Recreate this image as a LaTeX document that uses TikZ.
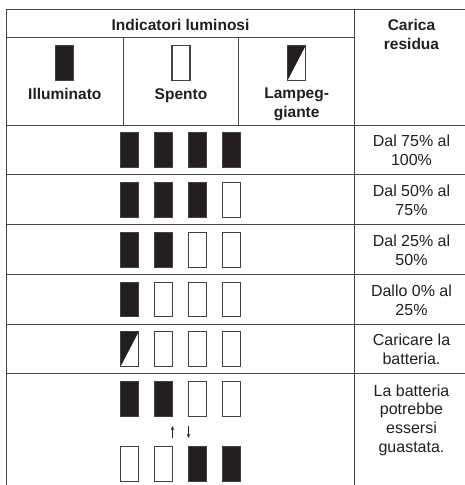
\documentclass[tikz,border=0pt]{standalone}
\usepackage{fontspec}
\setmainfont{Liberation Sans}
\usetikzlibrary{arrows.meta}
\definecolor{ink}{HTML}{231F20}
\definecolor{rulec}{HTML}{454545}
\begin{document}
\begin{tikzpicture}[x=1pt,y=-1pt,
  grid/.style={draw=rulec, line width=1pt},
  led/.style={draw=ink!85, line width=1.1pt, minimum width=18pt, minimum height=34.5pt, inner sep=0pt, outer sep=0pt},
  ledon/.style={led, fill=ink},
  ledoff/.style={led, fill=white},
  ledblink/.style={led, fill=white, path picture={\fill[ink] (path picture bounding box.north west) -- (path picture bounding box.north east) -- (path picture bounding box.south west) -- cycle;}},
  head/.style={font=\bfseries\fontsize{15.5}{18.5}\selectfont, text=ink, align=center, inner sep=0pt, anchor=base},
  body/.style={font=\fontsize{16}{18.8}\selectfont, text=ink, align=center, inner sep=0pt, anchor=base},
  flow/.style={draw=ink, line width=1pt, -{Stealth[length=4pt,width=3.5pt]}},
]
\useasboundingbox (0,0) rectangle (465,485);
\fill[white] (0,0) rectangle (465,485);

% grid
\draw[grid] (6.7,490) -- (6.7,9) -- (470,9);
\draw[grid] (6.7,37.3) -- (354,37.3);
\draw[grid] (354,9) -- (354,490);
\draw[grid] (123,37.3) -- (123,125);
\draw[grid] (238.7,37.3) -- (238.7,125);
\foreach \yy in {125,174.5,224.5,274.5,324,373.5}
  \draw[grid] (6.7,\yy) -- (470,\yy);

% header (base anchor = baseline of the last line)
\node[head] (title) at (180.5,30.3) {Indicatori luminosi};
\node[head] (carica) at (411.5,49) {Carica\\residua};
\node[ledon] (legon) at (64.8,62.8) {};
\node[ledoff] (legoff) at (181,62.8) {};
\node[ledblink] (legblink) at (296.7,62.8) {};
\node[head] (illum) at (64.8,99) {Illuminato};
\node[head] (spento) at (181,99) {Spento};
\node[head] (lamp) at (296.7,117) {Lampeg-\\giante};

% row 1
\node[ledon] (r1a) at (129.7,150) {};
\node[ledon] (r1b) at (163.7,150) {};
\node[ledon] (r1c) at (197.7,150) {};
\node[ledon] (r1d) at (231.7,150) {};
\node[body] (t1) at (411.5,165) {Dal 75\% al\\100\%};
% row 2
\node[ledon] (r2a) at (129.7,200) {};
\node[ledon] (r2b) at (163.7,200) {};
\node[ledon] (r2c) at (197.7,200) {};
\node[ledoff] (r2d) at (231.7,200) {};
\node[body] (t2) at (411.5,215) {Dal 50\% al\\75\%};
% row 3
\node[ledon] (r3a) at (129.7,250) {};
\node[ledon] (r3b) at (163.7,250) {};
\node[ledoff] (r3c) at (197.7,250) {};
\node[ledoff] (r3d) at (231.7,250) {};
\node[body] (t3) at (411.5,265) {Dal 25\% al\\50\%};
% row 4
\node[ledon] (r4a) at (129.7,299.5) {};
\node[ledoff] (r4b) at (163.7,299.5) {};
\node[ledoff] (r4c) at (197.7,299.5) {};
\node[ledoff] (r4d) at (231.7,299.5) {};
\node[body] (t4) at (411.5,315) {Dallo 0\% al\\25\%};
% row 5
\node[ledblink] (r5a) at (129.7,349) {};
\node[ledoff] (r5b) at (163.7,349) {};
\node[ledoff] (r5c) at (197.7,349) {};
\node[ledoff] (r5d) at (231.7,349) {};
\node[body] (t5) at (411.5,364.5) {Caricare la\\batteria.};
% row 6
\node[ledon] (r6a) at (129.7,398.8) {};
\node[ledon] (r6b) at (163.7,398.8) {};
\node[ledoff] (r6c) at (197.7,398.8) {};
\node[ledoff] (r6d) at (231.7,398.8) {};
\node[ledoff] (r7a) at (129.7,464) {};
\node[ledoff] (r7b) at (163.7,464) {};
\node[ledon] (r7c) at (197.7,464) {};
\node[ledon] (r7d) at (231.7,464) {};
\coordinate (upb) at (172.5,438);
\coordinate (upt) at (172.5,426);
\coordinate (dnt) at (188.5,426);
\coordinate (dnb) at (188.5,438);
\draw[flow] (upb) -- (upt);
\draw[flow] (dnt) -- (dnb);
\node[body] (t6) at (411.5,452.5) {La batteria\\potrebbe\\essersi\\guastata.};
\end{tikzpicture}
\end{document}
